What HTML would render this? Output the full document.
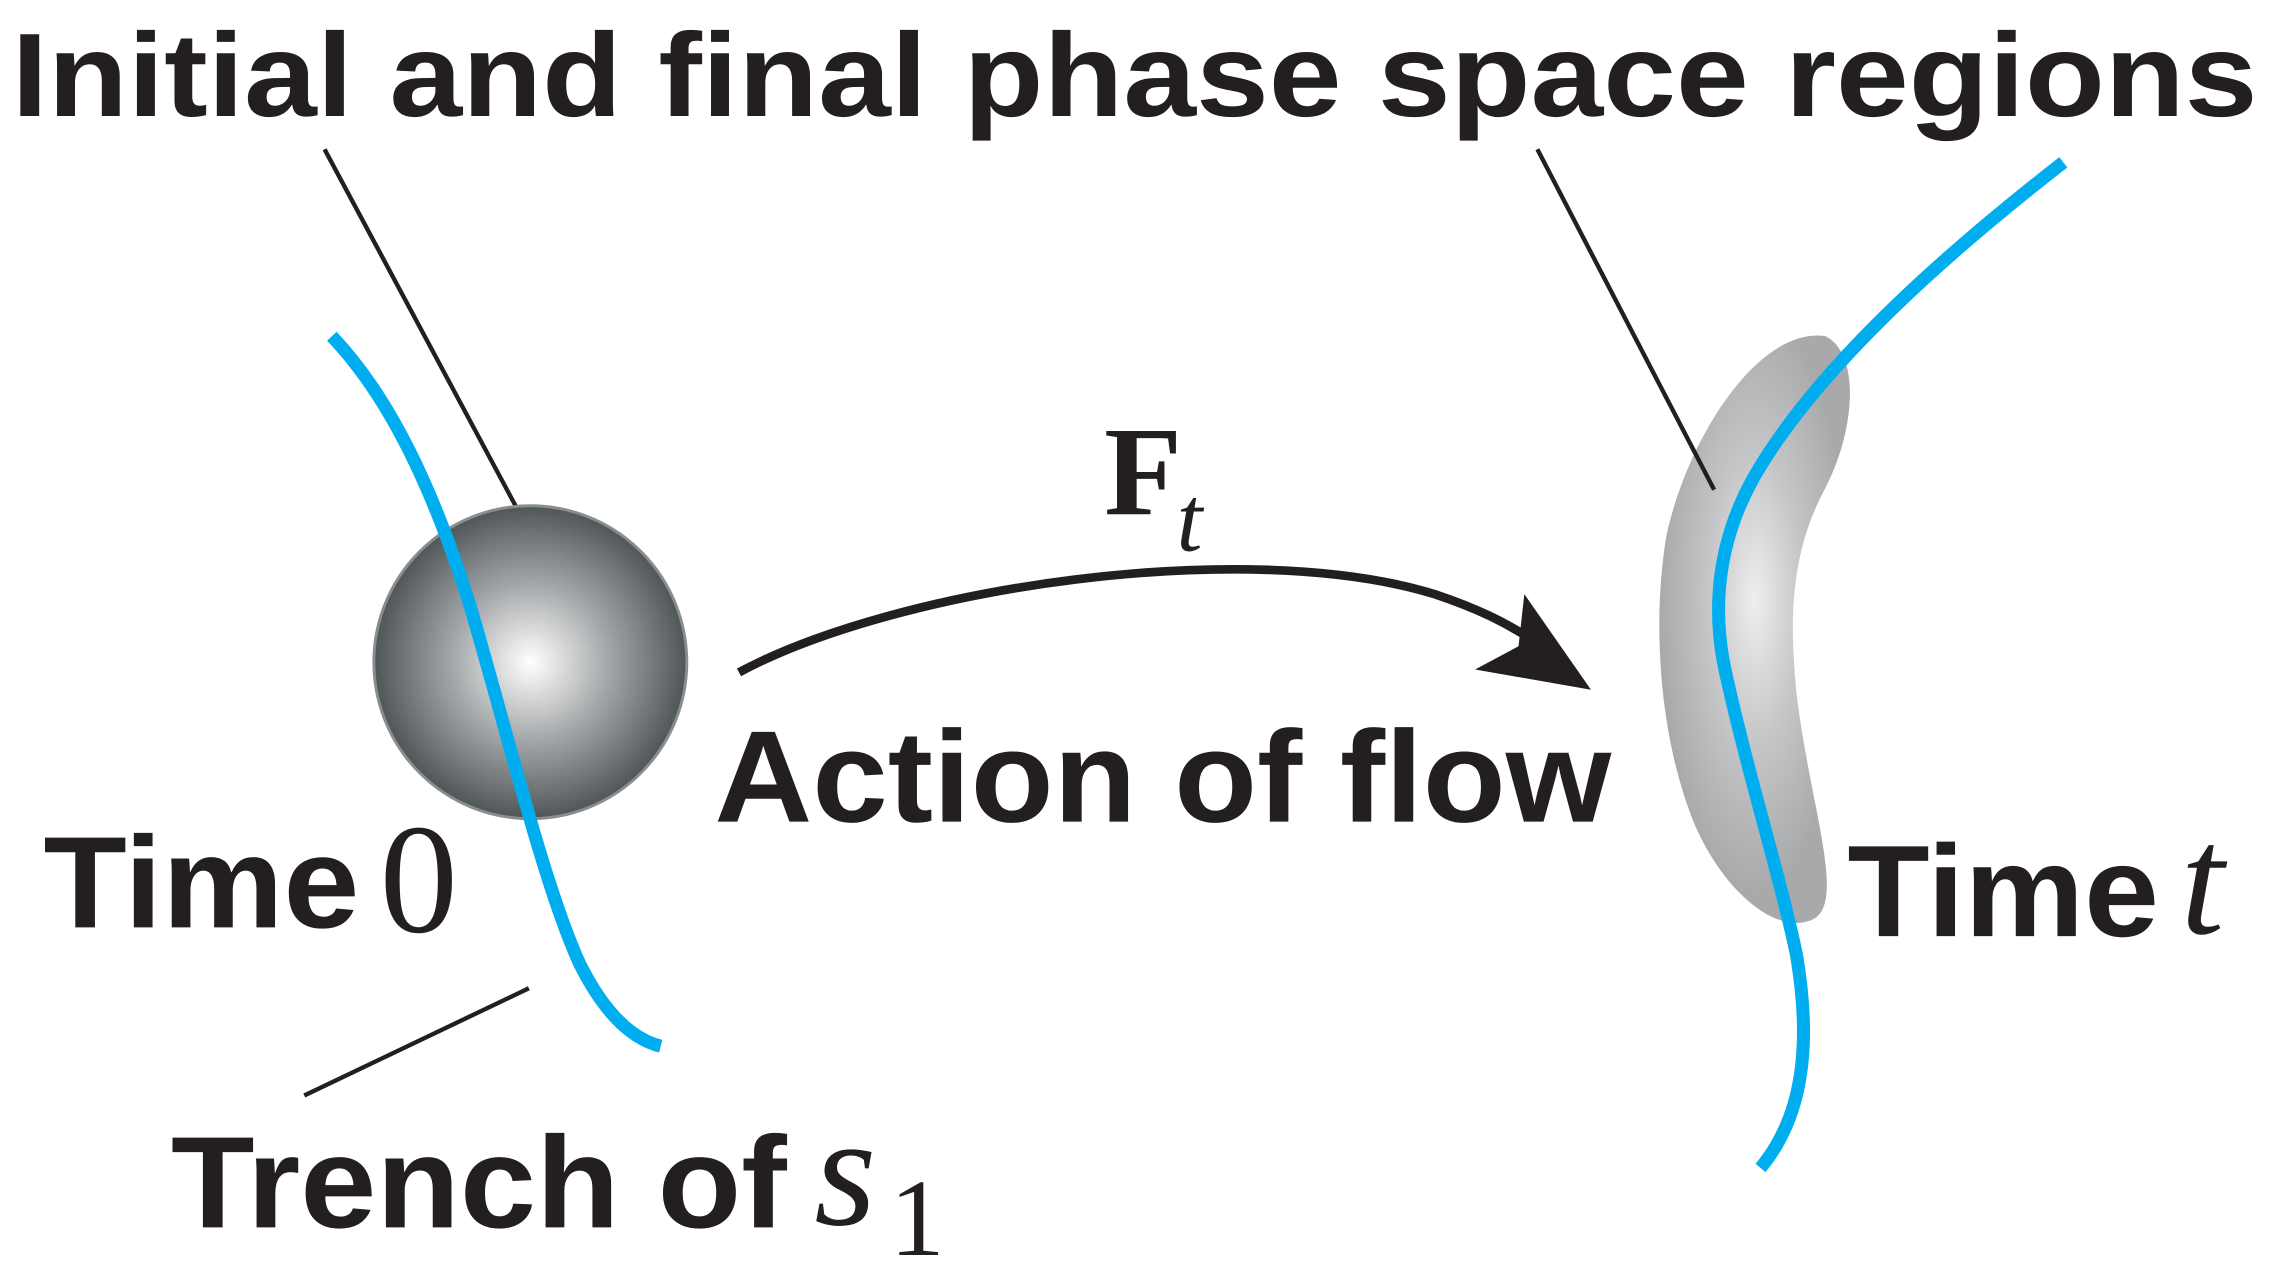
<!DOCTYPE html>
<html><head><meta charset="utf-8"><style>
html,body{margin:0;padding:0;background:#fff;}
svg{display:block;}
.b{font-family:"Liberation Sans",sans-serif;font-weight:bold;fill:#231f20;}
.s{font-family:"Liberation Serif",serif;fill:#231f20;}
</style></head><body>
<svg width="2272" height="1281" viewBox="0 0 1568 884" xmlns="http://www.w3.org/2000/svg">
<defs>
<radialGradient id="g1" cx="0.5" cy="0.5" r="0.5">
<stop offset="0" stop-color="#ffffff"/>
<stop offset="0.5" stop-color="#a4a7a9"/>
<stop offset="1" stop-color="#505657"/>
</radialGradient>
<radialGradient id="g2" cx="0.5" cy="0.45" r="0.5">
<stop offset="0" stop-color="#eeeeee"/>
<stop offset="0.5" stop-color="#c4c5c7"/>
<stop offset="1" stop-color="#a8a9ab"/>
</radialGradient>
</defs>
<text class="b" x="8" y="80" font-size="82" textLength="1550" lengthAdjust="spacingAndGlyphs">Initial and final phase space regions</text>
<line x1="224" y1="103" x2="374" y2="383" stroke="#231f20" stroke-width="3"/>
<circle cx="366" cy="457" r="108" fill="url(#g1)" stroke="#8a8d8f" stroke-width="2"/>
<path d="M229,232 C270,275 300,340 325,420 C350,505 375,610 400,665 C420,705 440,718 456,722" fill="none" stroke="#00aeef" stroke-width="9"/>
<path d="M1260,232 C1285,245 1280,300 1258,340 C1235,385 1235,430 1240,480 C1250,560 1275,625 1250,635 C1225,645 1190,615 1170,570 C1145,510 1140,430 1150,370 C1165,300 1215,225 1260,232 Z" fill="url(#g2)"/>
<line x1="1061" y1="103" x2="1183" y2="338" stroke="#231f20" stroke-width="3"/>
<path d="M1424,112 C1330,185 1250,260 1210,330 C1185,375 1182,420 1190,460 C1205,530 1230,610 1240,660 C1250,720 1245,770 1215,806" fill="none" stroke="#00aeef" stroke-width="9"/>
<path d="M510,464 C620,405 860,370 990,410 C1020,420 1040,430 1058,442" fill="none" stroke="#231f20" stroke-width="6"/>
<polygon points="1052,410 1098,476 1018,462 1048,446" fill="#231f20"/>
<text class="s" x="762" y="355" font-size="88" font-weight="bold">F</text>
<text class="s" x="812" y="380" font-size="64" font-style="italic">t</text>
<text class="b" x="493" y="567" font-size="90" textLength="619" lengthAdjust="spacingAndGlyphs">Action of flow</text>
<text class="b" x="30" y="640" font-size="90" textLength="218" lengthAdjust="spacingAndGlyphs">Time</text>
<text class="s" x="262" y="643" font-size="108">0</text>
<text class="b" x="1275" y="646" font-size="90" textLength="215" lengthAdjust="spacingAndGlyphs">Time</text>
<text class="s" x="1505" y="644" font-size="108" font-style="italic">t</text>
<line x1="365" y1="682" x2="210" y2="756" stroke="#231f20" stroke-width="3"/>
<text class="b" x="118" y="847" font-size="90" textLength="425" lengthAdjust="spacingAndGlyphs">Trench of</text>
<text class="s" x="562" y="845" font-size="110" font-style="italic">s</text>
<text class="s" x="614" y="866" font-size="76">1</text>
</svg>
</body></html>
